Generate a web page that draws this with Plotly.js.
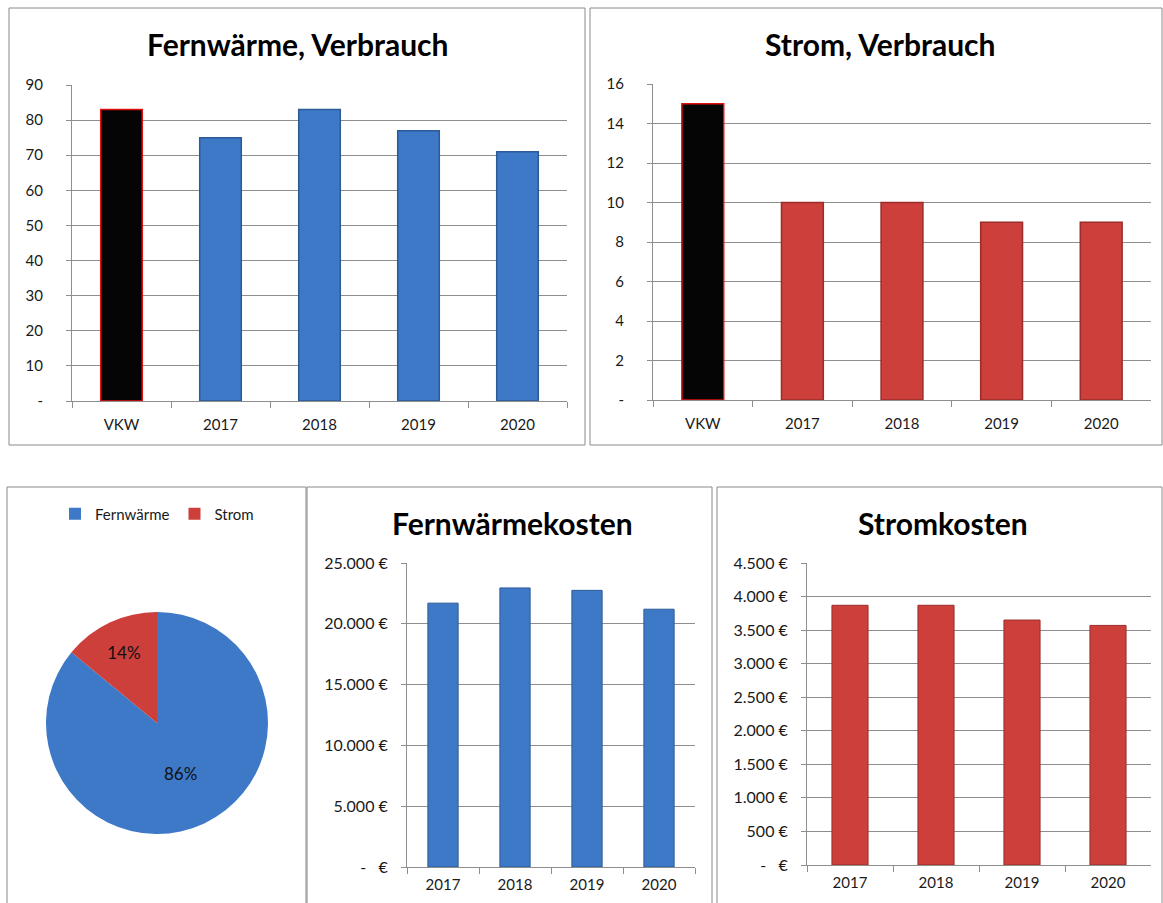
<!DOCTYPE html>
<html>
<head>
<meta charset="utf-8">
<script src="https://cdn.plot.ly/plotly-3.0.1.min.js"></script>
<style>
  html, body { margin: 0; padding: 0; background: #ffffff; }
  #chart { width: 1163px; height: 903px; }
</style>
</head>
<body>
<div id="chart"></div>
<script>
// Energie-Übersicht: Verbrauch und Kosten (Fernwärme / Strom)
const verbrauchKategorien = ['VKW', '2017', '2018', '2019', '2020'];
const fernwaermeVerbrauch = [83, 75, 83, 77, 71];
const stromVerbrauch = [15, 10, 10, 9, 9];

const kostenJahre = ['2017', '2018', '2019', '2020'];
const fernwaermeKosten = [21700, 22950, 22750, 21200];
const stromKosten = [3870, 3870, 3650, 3570];

const anteilLabels = ['Fernwärme', 'Strom'];
const anteilWerte = [86, 14];

const fwVerbrauchTicks = [0, 10, 20, 30, 40, 50, 60, 70, 80, 90];
const fwVerbrauchTickText = ['-', '10', '20', '30', '40', '50', '60', '70', '80', '90'];
const stromVerbrauchTicks = [0, 2, 4, 6, 8, 10, 12, 14, 16];
const stromVerbrauchTickText = ['-', '2', '4', '6', '8', '10', '12', '14', '16'];
const fwKostenTicks = [0, 5000, 10000, 15000, 20000, 25000];
const fwKostenTickText = ['-\u00a0\u00a0\u00a0€', '5.000\u00a0€', '10.000\u00a0€', '15.000\u00a0€', '20.000\u00a0€', '25.000\u00a0€'];
const stromKostenTicks = [0, 500, 1000, 1500, 2000, 2500, 3000, 3500, 4000, 4500];
const stromKostenTickText = ['-\u00a0\u00a0\u00a0€', '500\u00a0€', '1.000\u00a0€', '1.500\u00a0€', '2.000\u00a0€', '2.500\u00a0€', '3.000\u00a0€', '3.500\u00a0€', '4.000\u00a0€', '4.500\u00a0€'];

const W = 1163, H = 903;
const fx = x => x / W;
const fy = y => 1 - y / H;

const BLAU = '#3d79c6';
const BLAU_RAND = '#2c5b97';
const ROT = '#cc3f3b';
const ROT_RAND = '#9a2d2a';
const SCHWARZ = '#050505';
const VKW_RAND = '#e01010';
const GRID = '#8e8e8e';
const FONT = 'Lato, "Open Sans", sans-serif';

// erster Balken = Vergleichswert VKW (schwarz, rot umrandet)
function farben(n, basis) { return Array.from({ length: n }, (_, i) => i === 0 ? SCHWARZ : basis); }
function raender(n, basis) { return Array.from({ length: n }, (_, i) => i === 0 ? VKW_RAND : basis); }

const traces = [
  {
    type: 'bar', x: verbrauchKategorien, y: fernwaermeVerbrauch, xaxis: 'x', yaxis: 'y',
    marker: { color: farben(5, BLAU), line: { color: raender(5, BLAU_RAND), width: 1.5 } },
    showlegend: false, hoverinfo: 'x+y',
  },
  {
    type: 'bar', x: verbrauchKategorien, y: stromVerbrauch, xaxis: 'x2', yaxis: 'y2',
    marker: { color: farben(5, ROT), line: { color: raender(5, ROT_RAND), width: 1.5 } },
    showlegend: false, hoverinfo: 'x+y',
  },
  {
    type: 'bar', x: kostenJahre, y: fernwaermeKosten, xaxis: 'x3', yaxis: 'y3',
    marker: { color: BLAU, line: { color: BLAU_RAND, width: 1 } },
    showlegend: false, hoverinfo: 'x+y',
  },
  {
    type: 'bar', x: kostenJahre, y: stromKosten, xaxis: 'x4', yaxis: 'y4',
    marker: { color: ROT, line: { color: ROT_RAND, width: 1 } },
    showlegend: false, hoverinfo: 'x+y',
  },
  {
    type: 'pie', labels: anteilLabels, values: anteilWerte,
    domain: { x: [fx(46), fx(268)], y: [fy(834), fy(612)] },
    sort: false, direction: 'clockwise', rotation: 0,
    marker: { colors: [BLAU, ROT], line: { color: '#ffffff', width: 0 } },
    texttemplate: '%{percent:.0%}', textposition: 'inside',
    textfont: { family: FONT, size: 17, color: '#111111' },
    showlegend: true,
  },
];

function xAchse(domain, anchor, standoff) {
  return {
    domain, anchor, type: 'category', showline: true, linecolor: GRID, linewidth: 1,
    ticks: 'outside', tickson: 'boundaries', ticklen: 6, tickcolor: GRID,
    showgrid: false, zeroline: false, fixedrange: true,
    tickfont: { family: FONT, size: 15, color: '#1a1a1a' },
    ticklabelstandoff: standoff,
  };
}

function yAchse(domain, anchor, range, vals, text, standoff, groesse) {
  return {
    domain, anchor, range, tickmode: 'array', tickvals: vals, ticktext: text,
    showline: true, linecolor: GRID, linewidth: 1,
    ticks: 'outside', ticklen: 5, tickcolor: GRID,
    showgrid: true, gridcolor: GRID, gridwidth: 1, zeroline: false, fixedrange: true,
    tickfont: { family: FONT, size: groesse, color: '#1a1a1a' },
    ticklabelstandoff: standoff,
  };
}

function rahmen(x0, y0, x1, y1) {
  return {
    type: 'rect', xref: 'paper', yref: 'paper',
    x0: fx(x0), x1: fx(x1), y0: fy(y1), y1: fy(y0),
    line: { color: '#8a8a8a', width: 1 }, fillcolor: 'rgba(0,0,0,0)', layer: 'below',
  };
}

function titel(text, x, y) {
  return {
    text: '<b>' + text + '</b>', xref: 'paper', yref: 'paper', x: fx(x), y: fy(y),
    xanchor: 'center', yanchor: 'middle', showarrow: false,
    font: { family: FONT, size: 30, color: '#000000' },
  };
}

const layout = {
  width: W, height: H,
  margin: { l: 0, r: 0, t: 0, b: 0 },
  paper_bgcolor: '#ffffff', plot_bgcolor: 'rgba(0,0,0,0)',
  font: { family: FONT, color: '#1a1a1a' },
  bargap: 0.58,
  xaxis: xAchse([fx(72), fx(567)], 'y', 10),
  yaxis: yAchse([fy(401), fy(85)], 'x', [0, 90], fwVerbrauchTicks, fwVerbrauchTickText, 20, 15),
  xaxis2: xAchse([fx(653), fx(1151)], 'y2', 10),
  yaxis2: yAchse([fy(400), fy(84)], 'x2', [0, 16], stromVerbrauchTicks, stromVerbrauchTickText, 20, 15),
  xaxis3: xAchse([fx(407), fx(695)], 'y3', 4),
  yaxis3: yAchse([fy(867), fy(563)], 'x3', [0, 25000], fwKostenTicks, fwKostenTickText, 10, 16),
  xaxis4: xAchse([fx(807), fx(1151)], 'y4', 4),
  yaxis4: yAchse([fy(865), fy(563)], 'x4', [0, 4500], stromKostenTicks, stromKostenTickText, 10, 16),
  legend: {
    orientation: 'h', x: fx(157), xanchor: 'center', y: fy(514), yanchor: 'middle',
    font: { family: FONT, size: 15, color: '#1a1a1a' }, itemwidth: 30,
  },
  shapes: [
    rahmen(9, 8, 585, 445),
    rahmen(590, 8, 1162, 445),
    rahmen(7, 487, 306, 910),
    rahmen(307, 487, 712, 910),
    rahmen(717, 487, 1162, 910),
  ],
  annotations: [
    titel('Fernwärme, Verbrauch', 297, 44),
    titel('Strom, Verbrauch', 880, 44),
    titel('Fernwärmekosten', 512, 523),
    titel('Stromkosten', 943, 523),
  ],
};

Plotly.newPlot('chart', traces, layout, { displayModeBar: false, staticPlot: true });
</script>
</body>
</html>
